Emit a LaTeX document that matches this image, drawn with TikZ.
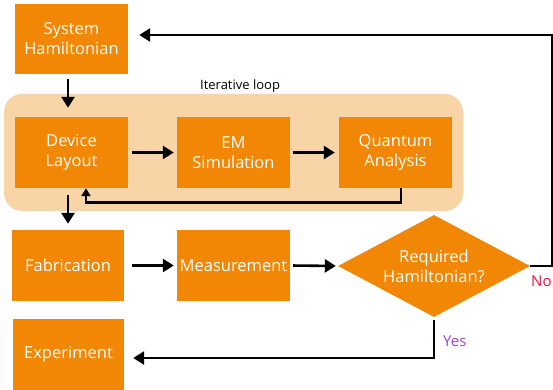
\documentclass[tikz,border=0pt]{standalone}
\usepackage{fontspec}
\setmainfont{Open Sans}
\usetikzlibrary{arrows.meta,shapes.geometric}
\definecolor{boxorange}{HTML}{F28705}
\definecolor{loopbg}{HTML}{F9D4A6}
\definecolor{nored}{HTML}{E8173A}
\definecolor{yespurple}{HTML}{9B45C8}
\tikzset{
  stepbox/.style={rectangle, fill=boxorange, draw=none, inner sep=0pt,
    minimum width=113pt, minimum height=71pt, text=white, align=center,
    font=\fontsize{16.5}{20}\selectfont},
  decision/.style={diamond, fill=boxorange, draw=none, inner sep=0pt,
    shape aspect=1.88, minimum width=192pt, minimum height=102pt,
    text=white, align=center, font=\fontsize{16.5}{20}\selectfont},
  arr/.style={line width=2.6pt, -{Triangle[length=11pt,width=13pt]}},
  smallarr/.style={line width=2.6pt, -{Triangle[length=8pt,width=9pt]}},
}
\begin{document}
\begin{tikzpicture}[x=1pt,y=-1pt]
\useasboundingbox (0,0) rectangle (553,390);
% loop background
\node (loop) [rectangle, rounded corners=18pt, fill=loopbg, inner sep=0pt,
  minimum width=459pt, minimum height=117pt] at (233.5,152.5) {};
\node (looplabel) [anchor=base west, inner sep=0pt, font=\fontsize{13}{15}\selectfont] at (200,90) {Iterative loop};
% boxes
\node (SH) [stepbox, minimum height=70pt] at (71.5,39) {System\\Hamiltonian};
\node (DL) [stepbox] at (71.5,152.5) {Device\\Layout};
\node (EM) [stepbox] at (233.5,152.5) {EM\\Simulation};
\node (QA) [stepbox] at (395.5,152.5) {Quantum\\Analysis};
\node (FAB) [stepbox, minimum width=112pt] at (68,265.5) {Fabrication};
\node (MEAS) [stepbox] at (233.5,265.5) {Measurement};
\node (EXP) [stepbox, minimum width=111pt] at (68.5,354.5) {Experiment};
\node (DEC) [decision] at (434,266) {Required\\Hamiltonian?};
% connectors
\draw[arr, shorten <=5pt, shorten >=9pt] (FAB.north |- SH.south) -- (FAB.north |- DL.north);
\draw[arr, shorten <=4pt, shorten >=3pt] (DL.east) -- (EM.west);
\draw[arr, shorten <=3pt, shorten >=4pt] (EM.east) -- (QA.west);
\draw[smallarr] ([xshift=5.5pt]QA.south) -- ++(0,14) -| ([xshift=14.5pt]DL.south);
\draw[arr, shorten <=7pt, shorten >=6pt] (FAB.north |- DL.south) -- (FAB.north);
\draw[arr, shorten <=8pt, shorten >=3pt] (FAB.east) -- (MEAS.west);
\draw[arr, shorten <=3pt, shorten >=2pt] (MEAS.east) -- (DEC.west);
\draw[arr, shorten >=11pt] (DEC.east) -- ++(22,0) |- ([yshift=4pt]SH.east);
\draw[arr, shorten <=3pt, shorten >=9pt] (DEC.south) |- ([yshift=-3.5pt]EXP.east);
\node (no) [anchor=base west, inner sep=0pt, text=nored, font=\fontsize{15}{18}\selectfont] at (531,286) {No};
\node (yes) [anchor=base west, inner sep=0pt, text=yespurple, font=\fontsize{15}{18}\selectfont] at (443,346) {Yes};
\end{tikzpicture}
\end{document}
